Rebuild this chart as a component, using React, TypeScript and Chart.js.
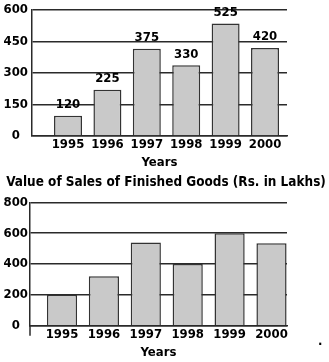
import React, { useEffect, useRef } from "react";
import { Chart, registerables } from "chart.js";

Chart.register(...registerables);

// ---- data ----
const years = ["1995", "1996", "1997", "1998", "1999", "2000"];
// bar heights as drawn in the top chart
const productionBars = [96, 220, 415, 336, 535, 419];
// value labels printed above the top chart's bars
const productionLabels = ["120", "225", "375", "330", "525", "420"];
const topTicks = [0, 150, 300, 450, 600];

const salesBars = [200, 320, 540, 400, 600, 535];
const bottomTicks = [0, 200, 400, 600, 800];
const salesTitle = "Value of Sales of Finished Goods (Rs. in Lakhs)";
const axisTitle = "Years";

const FAMILY = '"DejaVu Sans Condensed", "DejaVu Sans", Tahoma, sans-serif';
const INK = "#000";
const LINE = "#2a2a2a";

type Opts = {
  values: number[];
  labels?: string[];
  yTicks: number[];
  xMin: number;
  xMax: number;
  barPct: number;
  yWidth: number;
  xHeight: number;
  padRight: number;
  padTop: number;
  tickPadY: number;
  titlePadBottom: number;
  chartTitle?: string;
  extendAxis?: boolean;
};

function buildConfig(o: Opts): any {
  const font = { family: FAMILY, size: 13, weight: "bold" as const };
  const labelPlugin = {
    id: "valueLabels",
    afterDatasetsDraw(chart: any) {
      const ctx = chart.ctx;
      if (o.labels) {
        const meta = chart.getDatasetMeta(0);
        ctx.save();
        ctx.font = `bold 13px ${FAMILY}`;
        ctx.fillStyle = INK;
        ctx.textAlign = "center";
        ctx.textBaseline = "middle";
        meta.data.forEach((bar: any, i: number) => {
          ctx.fillText(o.labels![i], bar.x, bar.y - 11);
        });
        ctx.restore();
      }
      if (o.chartTitle) {
        ctx.save();
        ctx.font = `bold 13.45px ${FAMILY}`;
        ctx.fillStyle = INK;
        ctx.textAlign = "center";
        ctx.textBaseline = "middle";
        ctx.fillText(o.chartTitle, chart.width / 2 + 1.5, 13);
        ctx.restore();
      }
      if (o.extendAxis) {
        const a = chart.chartArea;
        ctx.save();
        ctx.strokeStyle = LINE;
        ctx.lineWidth = 1.5;
        ctx.beginPath();
        ctx.moveTo(a.left, a.bottom);
        ctx.lineTo(a.left, a.bottom + 10);
        ctx.stroke();
        ctx.restore();
      }
    },
  };
  return {
    type: "bar",
    data: {
      datasets: [
        {
          data: o.values.map((v, i) => ({ x: i, y: v })),
          backgroundColor: "#c9c9c9",
          borderColor: "#333",
          borderWidth: 1.5,
          categoryPercentage: 1,
          barPercentage: o.barPct,
        },
      ],
    },
    plugins: [labelPlugin],
    options: {
      responsive: false,
      animation: false,
      layout: { padding: { left: 0, right: o.padRight, top: o.padTop, bottom: 0 } },
      plugins: {
        legend: { display: false },
        tooltip: { enabled: false },
        title: { display: false },
      },
      scales: {
        x: {
          type: "linear",
          min: o.xMin,
          max: o.xMax,
          offset: false,
          afterBuildTicks: (s: any) => {
            s.ticks = years.map((_, i) => ({ value: i }));
          },
          afterFit: (s: any) => {
            s.height = o.xHeight;
          },
          ticks: {
            callback: (v: any) => years[v] ?? "",
            font,
            color: INK,
            padding: 1,
            maxRotation: 0,
            autoSkip: false,
          },
          grid: { display: false, drawTicks: false },
          border: { display: true, color: LINE, width: 1.5 },
          title: {
            display: true,
            text: axisTitle,
            color: INK,
            font,
            padding: { top: 0, bottom: o.titlePadBottom },
          },
        },
        y: {
          min: 0,
          max: o.yTicks[o.yTicks.length - 1],
          afterBuildTicks: (s: any) => {
            s.ticks = o.yTicks.map((v) => ({ value: v }));
          },
          afterFit: (s: any) => {
            s.width = o.yWidth;
          },
          ticks: {
            crossAlign: "center",
            font: { ...font, lineHeight: 0.9 },
            color: INK,
            padding: o.tickPadY,
          },
          grid: { color: LINE, lineWidth: 1.5, drawTicks: false },
          border: { display: true, color: LINE, width: 1.5 },
        },
      },
    },
  };
}

function BarChart(props: { opts: Opts; top: number; height: number }) {
  const ref = useRef<HTMLCanvasElement | null>(null);
  useEffect(() => {
    if (!ref.current) return;
    const chart = new Chart(ref.current, buildConfig(props.opts));
    return () => chart.destroy();
  }, []);
  return (
    <canvas
      ref={ref}
      width={329}
      height={props.height}
      style={{ position: "absolute", left: 0, top: props.top, width: 329, height: props.height }}
    />
  );
}

export default function App() {
  return (
    <div style={{ position: "absolute", left: 0, top: 0, width: 329, height: 362, background: "#fff", overflow: "hidden" }}>
      <BarChart
        top={0}
        height={170}
        opts={{
          values: productionBars,
          labels: productionLabels,
          yTicks: topTicks,
          xMin: -0.914,
          xMax: 5.558,
          barPct: 0.71,
          yWidth: 32,
          xHeight: 34,
          padRight: 42,
          padTop: 0,
          tickPadY: 4,
          titlePadBottom: 0,
        }}
      />
      <BarChart
        top={170}
        height={192}
        opts={{
          values: salesBars,
          yTicks: bottomTicks,
          xMin: -0.764,
          xMax: 5.37,
          barPct: 0.72,
          yWidth: 30,
          xHeight: 36.3,
          padRight: 42,
          padTop: 32.3,
          tickPadY: 2,
          titlePadBottom: 1.5,
          chartTitle: salesTitle,
          extendAxis: true,
        }}
      />
      <span
        style={{ position: "absolute", left: 318, top: 333, font: `bold 13px ${FAMILY}`, color: INK }}
      >
        .
      </span>
    </div>
  );
}
